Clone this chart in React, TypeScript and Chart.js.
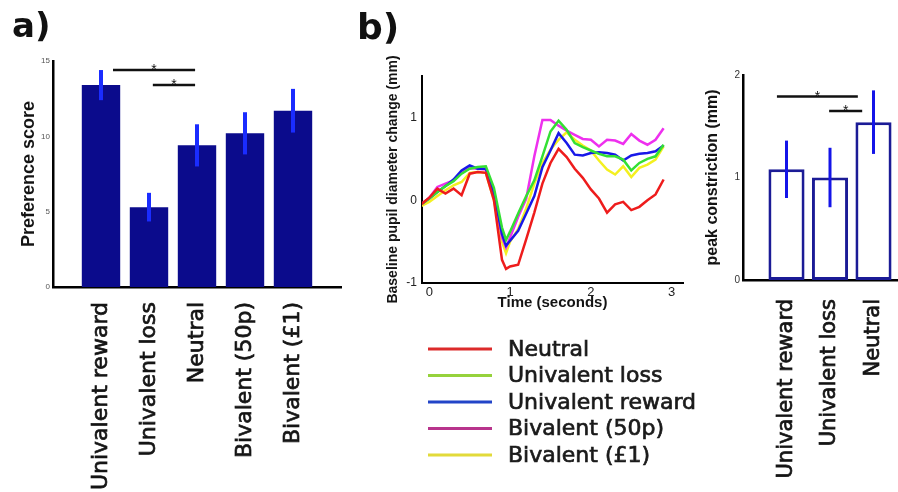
import React, { useEffect, useRef } from "react";
import { Chart, registerables } from "chart.js";

Chart.register(...registerables);

const GOTHIC = '"DejaVu Sans", sans-serif';
const ARIAL = '"Liberation Sans", Arial, sans-serif';

// ---------- Panel a: preference scores ----------
const prefCategories = ["Univalent reward", "Univalent loss", "Neutral", "Bivalent (50p)", "Bivalent (£1)"];
const prefScores = [13.4, 5.3, 9.4, 10.2, 11.7];
const prefErrors = [1.0, 0.95, 1.4, 1.4, 1.45];
const prefTicks = [0, 5, 10, 15];
const prefSigFrom = [1.25, 2.08];
const prefSigTo = [2.96, 2.96];
const prefSigLevel = [14.4, 13.4];

// ---------- Panel b: pupil time courses ----------
const timeSec = [-0.1, 0, 0.1, 0.2, 0.3, 0.4, 0.5, 0.6, 0.7, 0.8, 0.9, 0.95, 1.0, 1.1, 1.2, 1.3, 1.4, 1.5, 1.6, 1.7, 1.8, 1.9, 2.0, 2.1, 2.2, 2.3, 2.4, 2.5, 2.6, 2.7, 2.8, 2.9];
const neutralTrace = [-0.05, 0.03, 0.14, 0.08, 0.14, 0.06, 0.32, 0.34, 0.33, 0.0, -0.72, -0.83, -0.8, -0.78, -0.47, -0.15, 0.2, 0.45, 0.62, 0.52, 0.38, 0.27, 0.13, 0.02, -0.15, -0.05, -0.02, -0.12, -0.08, 0.0, 0.07, 0.25];
const lossTrace = [-0.05, 0.02, 0.1, 0.17, 0.23, 0.32, 0.38, 0.4, 0.41, 0.15, -0.33, -0.48, -0.38, -0.16, 0.05, 0.24, 0.53, 0.83, 0.96, 0.85, 0.69, 0.64, 0.6, 0.56, 0.53, 0.53, 0.49, 0.36, 0.45, 0.5, 0.53, 0.67];
const rewardTrace = [-0.05, 0.02, 0.1, 0.17, 0.25, 0.36, 0.42, 0.38, 0.38, 0.08, -0.41, -0.55, -0.49, -0.37, -0.16, 0.05, 0.4, 0.6, 0.81, 0.69, 0.55, 0.54, 0.57, 0.58, 0.57, 0.55, 0.48, 0.54, 0.56, 0.57, 0.59, 0.66];
const biv50Trace = [-0.05, 0.03, 0.16, 0.2, 0.24, 0.33, 0.39, 0.38, 0.37, 0.1, -0.45, -0.57, -0.45, -0.2, 0.02, 0.53, 0.97, 0.97, 0.9, 0.84, 0.79, 0.74, 0.73, 0.65, 0.73, 0.72, 0.68, 0.8, 0.72, 0.67, 0.73, 0.87];
const biv1Trace = [-0.07, -0.02, 0.05, 0.12, 0.18, 0.22, 0.33, 0.34, 0.33, 0.0, -0.5, -0.64, -0.5, -0.35, -0.1, 0.2, 0.45, 0.61, 0.73, 0.82, 0.73, 0.66, 0.6, 0.48, 0.37, 0.31, 0.41, 0.28, 0.39, 0.43, 0.49, 0.65];
const seriesNames = ["Neutral", "Univalent loss", "Univalent reward", "Bivalent (50p)", "Bivalent (£1)"];
const seriesValues = [neutralTrace, lossTrace, rewardTrace, biv50Trace, biv1Trace];
const lineColors = ["#ee1c1c", "#33e033", "#1818e8", "#ee30ee", "#f4f020"];
const legendColors = ["#dc2a2a", "#96d23c", "#2244c8", "#b8348c", "#e2da3a"];
const timeTicks = [0, 1, 2, 3];
const pupilTicks = [-1, 0, 1];

// ---------- Panel b (right): peak constriction ----------
const peakCategories = ["Univalent reward", "Univalent loss", "Neutral"];
const peakValues = [1.08, 1.0, 1.54];
const peakErrors = [0.28, 0.29, 0.31];
const peakTicks = [0, 1, 2];
const peakSigFrom = [0.78, 1.98];
const peakSigTo = [2.64, 2.74];
const peakSigLevel = [1.79, 1.65];

// ---------- plugins ----------
function errorBarPlugin(values: number[], errs: number[], offset: number, color: string, width: number) {
  return {
    id: "errorBars",
    afterDatasetsDraw(chart: any) {
      const { ctx } = chart;
      const x = chart.scales.x;
      const y = chart.scales.y;
      ctx.save();
      ctx.strokeStyle = color;
      ctx.lineWidth = width;
      values.forEach((v, i) => {
        const px = x.getPixelForValue(i + offset);
        ctx.beginPath();
        ctx.moveTo(px, y.getPixelForValue(v + errs[i]));
        ctx.lineTo(px, y.getPixelForValue(v - errs[i]));
        ctx.stroke();
      });
      ctx.restore();
    },
  };
}

function sigPlugin(from: number[], to: number[], level: number[]) {
  return {
    id: "sigBrackets",
    afterDatasetsDraw(chart: any) {
      const { ctx } = chart;
      const x = chart.scales.x;
      const y = chart.scales.y;
      ctx.save();
      ctx.strokeStyle = "#111";
      ctx.fillStyle = "#111";
      ctx.lineWidth = 2.5;
      ctx.font = `14px ${ARIAL}`;
      ctx.textAlign = "center";
      ctx.textBaseline = "alphabetic";
      from.forEach((f, i) => {
        const x1 = x.getPixelForValue(f);
        const x2 = x.getPixelForValue(to[i]);
        const yy = y.getPixelForValue(level[i]);
        ctx.beginPath();
        ctx.moveTo(x1, yy);
        ctx.lineTo(x2, yy);
        ctx.stroke();
        ctx.fillText("*", (x1 + x2) / 2, yy + 4);
      });
      ctx.restore();
    },
  };
}

function panelLabelPlugin(text: string, px: number, py: number, size: number) {
  return {
    id: "panelLabel",
    afterDraw(chart: any) {
      const { ctx } = chart;
      ctx.save();
      ctx.fillStyle = "#111";
      ctx.font = `bold ${size}px ${GOTHIC}`;
      ctx.textAlign = "left";
      ctx.textBaseline = "alphabetic";
      ctx.fillText(text, px, py);
      ctx.restore();
    },
  };
}

const legendPlugin = {
  id: "pupilLegend",
  afterDraw(chart: any) {
    const { ctx } = chart;
    ctx.save();
    ctx.font = `22px ${GOTHIC}`;
    ctx.textBaseline = "middle";
    ctx.textAlign = "left";
    seriesNames.forEach((name, k) => {
      const yy = 349 + k * 26.5;
      ctx.strokeStyle = legendColors[k];
      ctx.lineWidth = 3;
      ctx.beginPath();
      ctx.moveTo(88, yy);
      ctx.lineTo(152, yy);
      ctx.stroke();
      ctx.fillStyle = "#1a1a1a";
      ctx.strokeStyle = "#1a1a1a";
      ctx.lineWidth = 0.7;
      ctx.strokeText(name, 168, yy + 1);
      ctx.fillText(name, 168, yy + 1);
    });
    ctx.restore();
  },
};

// ---------- generic canvas component ----------
function ChartCanvas({ left, top, width, height, config }: any) {
  const ref = useRef<HTMLCanvasElement>(null);
  useEffect(() => {
    if (!ref.current) return;
    const chart = new Chart(ref.current, config);
    return () => chart.destroy();
  }, []);
  return (
    <canvas
      ref={ref}
      width={width}
      height={height}
      style={{ position: "absolute", left, top, width, height }}
    />
  );
}

const axisBorder = { display: true, color: "#000", width: 2.5 };
const noGrid = { display: false, drawTicks: false };

function fixX(h: number) {
  return (s: any) => {
    s.height = h;
    s.paddingLeft = 0;
    s.paddingRight = 0;
  };
}

function fixY(w: number) {
  return (s: any) => {
    s.width = w;
    s.paddingTop = 0;
    s.paddingBottom = 0;
  };
}

function configA() {
  return {
    type: "bar",
    data: {
      labels: ["", ...prefCategories, ""],
      datasets: [
        {
          data: [null, ...prefScores, null],
          backgroundColor: "#0b0b8c",
          borderWidth: 0,
          categoryPercentage: 0.8,
          barPercentage: 1,
        },
      ],
    },
    options: {
      responsive: false,
      animation: false,
      devicePixelRatio: 1,
      layout: { padding: { left: 0, top: 61, right: 19, bottom: 0 } },
      plugins: { legend: { display: false }, tooltip: { enabled: false } },
      scales: {
        x: {
          type: "category",
          offset: false,
          grid: noGrid,
          border: axisBorder,
          ticks: {
            autoSkip: false,
            minRotation: 90,
            maxRotation: 90,
            padding: 15,
            color: "#141414",
            textStrokeColor: "#141414",
            textStrokeWidth: 0.7,
            font: { family: GOTHIC, size: 22 },
          },
          afterFit: fixX(205),
        },
        y: {
          min: 0,
          max: 15,
          afterBuildTicks: (s: any) => {
            s.ticks = prefTicks.map((v) => ({ value: v }));
          },
          grid: noGrid,
          border: axisBorder,
          ticks: { padding: 3, color: "#555", font: { family: ARIAL, size: 8 } },
          title: {
            display: true,
            text: "Preference score",
            color: "#141414",
            font: { family: ARIAL, size: 18, weight: "bold" },
            padding: { top: 18, bottom: 0 },
          },
          afterFit: fixY(53),
        },
      },
    },
    plugins: [
      errorBarPlugin(prefScores, prefErrors, 1, "#1a2cff", 4),
      sigPlugin(prefSigFrom, prefSigTo, prefSigLevel),
      panelLabelPlugin("a)", 12, 37, 34),
    ],
  };
}

function configB() {
  return {
    type: "line",
    data: {
      datasets: seriesNames.map((name, k) => ({
        label: name,
        data: timeSec.map((t, i) => ({ x: t, y: seriesValues[k][i] })),
        borderColor: lineColors[k],
        borderWidth: 2.5,
        pointRadius: 0,
        tension: 0,
        fill: false,
      })),
    },
    options: {
      responsive: false,
      animation: false,
      devicePixelRatio: 1,
      layout: { padding: { left: 0, top: 76, right: 15, bottom: 0 } },
      plugins: { legend: { display: false }, tooltip: { enabled: false } },
      scales: {
        x: {
          type: "linear",
          min: -0.09,
          max: 3.14,
          afterBuildTicks: (s: any) => {
            s.ticks = timeTicks.map((v) => ({ value: v }));
          },
          grid: noGrid,
          border: { display: true, color: "#000", width: 2 },
          ticks: { padding: 2, color: "#222", font: { family: ARIAL, size: 13 } },
          title: {
            display: true,
            text: "Time (seconds)",
            color: "#141414",
            font: { family: ARIAL, size: 15, weight: "bold" },
            padding: { top: 0, bottom: 180 },
          },
          afterFit: fixX(209),
        },
        y: {
          type: "linear",
          min: -1,
          max: 1.5,
          afterBuildTicks: (s: any) => {
            s.ticks = pupilTicks.map((v) => ({ value: v }));
          },
          grid: noGrid,
          border: { display: true, color: "#000", width: 2 },
          ticks: { padding: 5, color: "#222", font: { family: ARIAL, size: 12 } },
          title: {
            display: true,
            text: "Baseline pupil diameter change (mm)",
            color: "#141414",
            font: { family: ARIAL, size: 14, weight: "bold" },
            padding: { top: 44.6, bottom: 0 },
          },
          afterFit: fixY(82),
        },
      },
    },
    plugins: [legendPlugin, panelLabelPlugin("b)", 17, 39, 36)],
  };
}

function configC() {
  return {
    type: "bar",
    data: {
      labels: ["", ...peakCategories, ""],
      datasets: [
        {
          data: [null, ...peakValues, null],
          backgroundColor: "#ffffff",
          borderColor: "#1b1b96",
          borderWidth: 3,
          borderSkipped: false,
          categoryPercentage: 0.83,
          barPercentage: 1,
        },
      ],
    },
    options: {
      responsive: false,
      animation: false,
      devicePixelRatio: 1,
      layout: { padding: { left: 0, top: 75, right: 23, bottom: 0 } },
      plugins: { legend: { display: false }, tooltip: { enabled: false } },
      scales: {
        x: {
          type: "category",
          offset: false,
          grid: noGrid,
          border: axisBorder,
          ticks: {
            autoSkip: false,
            minRotation: 90,
            maxRotation: 90,
            padding: 19,
            color: "#141414",
            textStrokeColor: "#141414",
            textStrokeWidth: 0.7,
            font: { family: GOTHIC, size: 21 },
          },
          afterFit: fixX(212),
        },
        y: {
          min: 0,
          max: 2,
          afterBuildTicks: (s: any) => {
            s.ticks = peakTicks.map((v) => ({ value: v }));
          },
          grid: noGrid,
          border: axisBorder,
          ticks: { padding: 3, color: "#333", font: { family: ARIAL, size: 10 } },
          title: {
            display: true,
            text: "peak constriction (mm)",
            color: "#141414",
            font: { family: ARIAL, size: 16, weight: "bold" },
            padding: { top: 23.4, bottom: 0 },
          },
          afterFit: fixY(63),
        },
      },
    },
    plugins: [
      errorBarPlugin(peakValues, peakErrors, 1, "#1414e8", 3),
      sigPlugin(peakSigFrom, peakSigTo, peakSigLevel),
    ],
  };
}

export default function App() {
  return (
    <div
      style={{
        position: "fixed",
        left: 0,
        top: 0,
        width: 898,
        height: 492,
        overflow: "hidden",
        background: "#ffffff",
      }}
    >
      <ChartCanvas left={0} top={0} width={360} height={492} config={configA()} />
      <ChartCanvas left={340} top={0} width={358} height={492} config={configB()} />
      <ChartCanvas left={680} top={0} width={260} height={492} config={configC()} />
    </div>
  );
}
